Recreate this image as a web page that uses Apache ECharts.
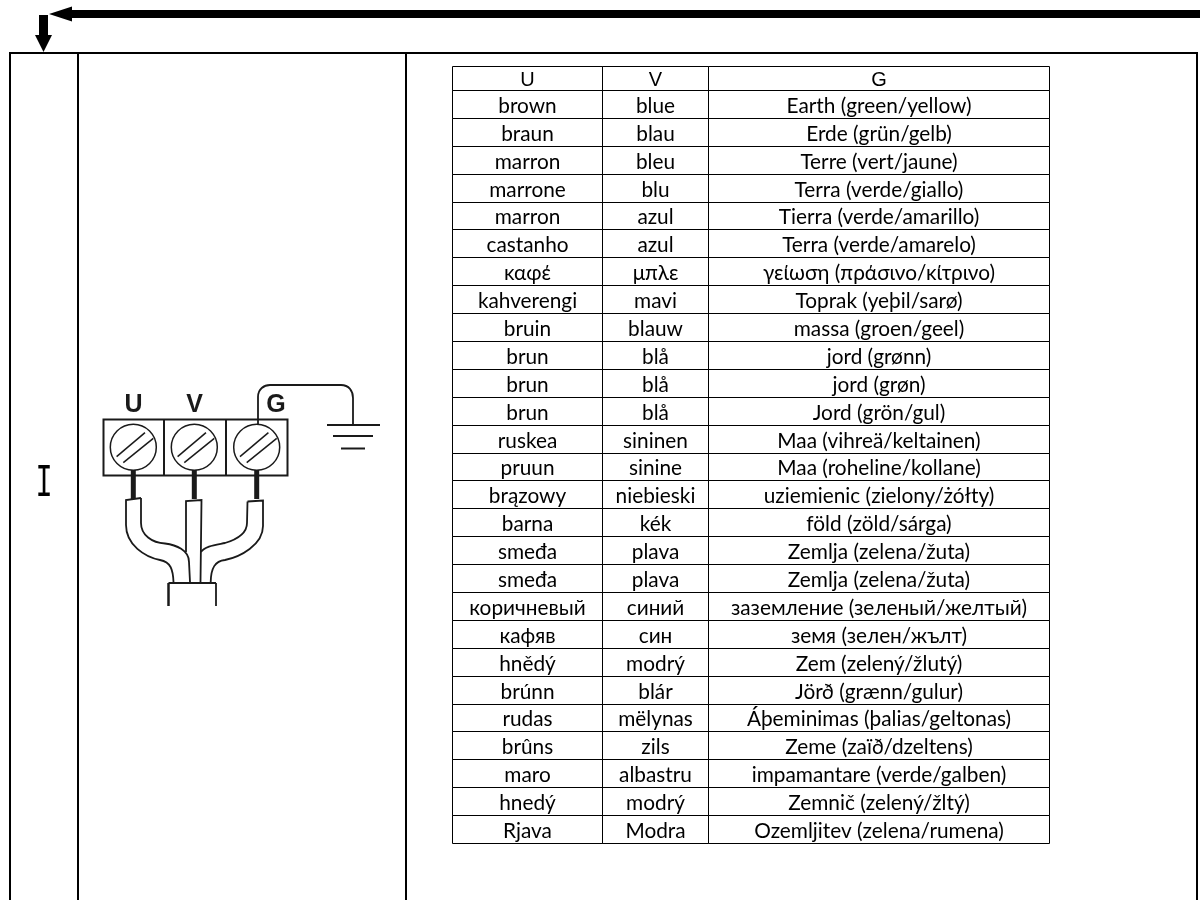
<!DOCTYPE html>
<html style="height: 100%">
<head>
    <meta charset="UTF-8">
    <title>U V G wiring table</title>
    <script src="https://cdn.jsdelivr.net/npm/echarts/dist/echarts.min.js"></script>
    <style>
        #main {
            width: 1200px;
            height: 900px;
        }
    </style>
</head>
<body style="height: 100%; margin: 0; background: #fff">
    <div id="main"></div>
    <script type="text/javascript">
        var headers = ['U', 'V', 'G'];
        var uColours = ['brown', 'braun', 'marron', 'marrone', 'marron', 'castanho', 'καφέ', 'kahverengi', 'bruin', 'brun', 'brun', 'brun', 'ruskea', 'pruun', 'brązowy', 'barna', 'smeđa', 'smeđa', 'коричневый', 'кафяв', 'hnědý', 'brúnn', 'rudas', 'brûns', 'maro', 'hnedý', 'Rjava'];
        var vColours = ['blue', 'blau', 'bleu', 'blu', 'azul', 'azul', 'μπλε', 'mavi', 'blauw', 'blå', 'blå', 'blå', 'sininen', 'sinine', 'niebieski', 'kék', 'plava', 'plava', 'синий', 'син', 'modrý', 'blár', 'mëlynas', 'zils', 'albastru', 'modrý', 'Modra'];
        var gColours = ['Earth (green/yellow)', 'Erde (grün/gelb)', 'Terre (vert/jaune)', 'Terra (verde/giallo)', 'Tierra (verde/amarillo)', 'Terra (verde/amarelo)', 'γείωση (πράσινο/κίτρινο)', 'Toprak (yeþil/sarø)', 'massa (groen/geel)', 'jord (grønn)', 'jord (grøn)', 'Jord (grön/gul)', 'Maa (vihreä/keltainen)', 'Maa (roheline/kollane)', 'uziemienic (zielony/żółty)', 'föld (zöld/sárga)', 'Zemlja (zelena/žuta)', 'Zemlja (zelena/žuta)', 'заземление (зеленый/желтый)', 'земя (зелен/жълт)', 'Zem (zelený/žlutý)', 'Jörð (grænn/gulur)', 'Áþeminimas (þalias/geltonas)', 'Zeme (zaïð/dzeltens)', 'impamantare (verde/galben)', 'Zemnič (zelený/žltý)', 'Ozemljitev (zelena/rumena)'];

        // table layout, in page units of the hidden axes
        var colEdges = [452.5, 602.5, 708.5, 1049.5];
        var tableTop = 66.5;
        var headerBottom = 90.5;
        var tableBottom = 843.5;
        var rowHeight = (tableBottom - headerBottom) / uColours.length;
        var ink = '#1a1a1a';

        var cells = [];
        headers.forEach(function (h, c) { cells.push([c, -1, h]); });
        [uColours, vColours, gColours].forEach(function (list, c) {
            list.forEach(function (t, r) { cells.push([c, r, t]); });
        });

        function renderCell(params, api) {
            var c = api.value(0);
            var r = api.value(1);
            var y0 = r < 0 ? tableTop : headerBottom + r * rowHeight;
            var y1 = r < 0 ? headerBottom : y0 + rowHeight;
            var a = api.coord([colEdges[c], y0]);
            var b = api.coord([colEdges[c + 1], y1]);
            var ya = Math.floor(a[1]) + 0.5;
            var yb = Math.floor(b[1]) + 0.5;
            return {
                type: 'group',
                children: [{
                    type: 'rect',
                    shape: { x: a[0], y: ya, width: b[0] - a[0], height: yb - ya },
                    style: { fill: 'none', stroke: '#000', lineWidth: 1 }
                }, {
                    type: 'text',
                    style: {
                        text: cells[params.dataIndex][2],
                        x: (a[0] + b[0]) / 2,
                        y: (ya + yb) / 2 + 1.5,
                        align: 'center',
                        verticalAlign: 'middle',
                        fill: '#000',
                        font: r < 0 ? '20px "Liberation Sans"' : '20.8px Lato, "Noto Sans"'
                    }
                }]
            };
        }

        function line(points, width, colour) {
            return {
                type: 'polyline',
                shape: { points: points },
                style: { fill: 'none', stroke: colour || ink, lineWidth: width }
            };
        }

        function solid(points) {
            return { type: 'polygon', shape: { points: points }, style: { fill: '#000' } };
        }

        // frame and the two arrows
        var frame = [
            line([[10, 900], [10, 53], [1197, 53], [1197, 900]], 2, '#000'),
            line([[78, 53], [78, 900]], 2, '#000'),
            line([[406, 53], [406, 900]], 2, '#000'),
            solid([[49, 14], [72, 6.5], [72, 10], [1200, 10], [1200, 18], [72, 18], [72, 21.5]]),
            solid([[39, 15], [48, 15], [48, 35], [52, 35], [43.5, 52], [35, 35], [39, 35]])
        ];

        // terminal block, screws, straight wires and earth symbol
        var screwX = [133.3, 194.3, 256.7];
        var diagram = [
            { type: 'rect', shape: { x: 103.5, y: 419.5, width: 184, height: 56 }, style: { fill: 'none', stroke: ink, lineWidth: 2 } },
            line([[164, 419], [164, 475]], 2),
            line([[226, 419], [226, 475]], 2)
        ];
        screwX.forEach(function (x) {
            diagram.push({ type: 'circle', shape: { cx: x, cy: 447.3, r: 23 }, style: { fill: '#fff', stroke: ink, lineWidth: 1.5 } });
            diagram.push(line([[x - 16.7, 456.6], [x + 11.7, 432.6]], 1.5));
            diagram.push(line([[x - 10, 462.6], [x + 20, 438.3]], 1.5));
            diagram.push(line([[x, 470], [x, 499]], 5));
        });
        diagram.push(
            line([[327, 425], [380, 425]], 2),
            line([[333, 436], [373, 436]], 2),
            line([[341, 448.5], [365, 448.5]], 2),
            line([[168.5, 583], [216, 583]], 2),
            line([[168.5, 583], [168.5, 606]], 2.5),
            line([[216, 583], [216, 606]], 1.8)
        );
        [['U', 133.5], ['V', 194.5], ['G', 276]].forEach(function (l) {
            diagram.push({
                type: 'text',
                style: { text: l[0], x: l[1], y: 405, align: 'center', verticalAlign: 'middle', fill: ink, font: 'bold 25px "Liberation Sans"' }
            });
        });

        var rowLabel = {
            type: 'text',
            x: 44,
            y: 484,
            scaleX: 0.62,
            style: { text: 'I', x: 0, y: 0, align: 'center', verticalAlign: 'middle', fill: '#000', font: '46px "Liberation Mono"' }
        };

        // earth wire and cable sheaths
        var curvePaths = [
            'M258,425 L258,397 C258,389 264,385 270,385 L341,385 C349,385 353,391 353,398 L353,425',
            'M141,498 L126,500 L126,525 C126,545 145,557 160,560 C171,562 173,570 173.5,582',
            'M141,498 L141,523 C141,535 152,543 165,543.5 C176,545 189,550 189,562 L190,582',
            'M186,552 L186,501 L201.5,500 L200.5,582',
            'M247.5,501.5 L263,500.5 L263,526 C263,545 240,557 225,560 C215,561 211,568 210.7,582',
            'M247.5,501.5 L247,523 C247,535 235,540 225,543 C215,545 205,546 201,552'
        ];

        function renderCurve(params) {
            return {
                type: 'path',
                shape: { pathData: curvePaths[params.dataIndex] },
                style: { fill: 'none', stroke: ink, lineWidth: 1.8 }
            };
        }

        var chartDom = document.getElementById('main');
        var myChart = echarts.init(chartDom);
        var option;

        option = {
            animation: false,
            grid: { left: 0, right: 0, top: 0, bottom: 0 },
            xAxis: { type: 'value', min: 0, max: 1200, show: false },
            yAxis: { type: 'value', min: 0, max: 900, inverse: true, show: false },
            series: [{
                type: 'custom',
                coordinateSystem: 'cartesian2d',
                data: cells,
                encode: { x: 0, y: 1 },
                renderItem: renderCell,
                clip: false
            }, {
                type: 'custom',
                coordinateSystem: 'cartesian2d',
                data: curvePaths.map(function () { return [0, 0]; }),
                encode: { x: 0, y: 1 },
                renderItem: renderCurve,
                clip: false
            }],
            graphic: { elements: frame.concat(diagram, [rowLabel]) }
        };

        myChart.setOption(option);
    </script>
</body>
</html>
